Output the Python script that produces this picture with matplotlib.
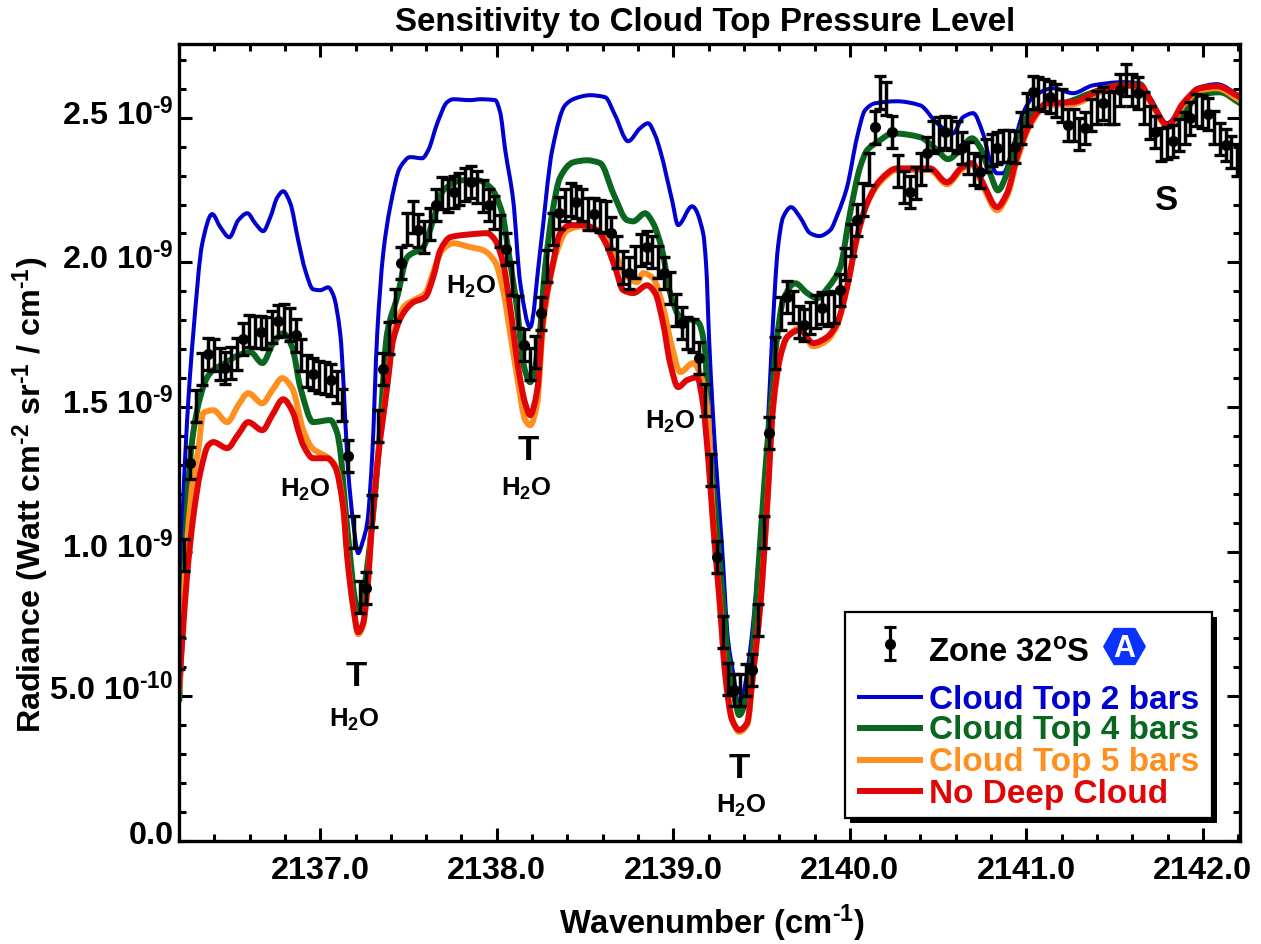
import numpy as np
import matplotlib
matplotlib.use("Agg")
import matplotlib.pyplot as plt
from matplotlib.lines import Line2D
from matplotlib.patches import Rectangle, PathPatch
from matplotlib.path import Path
from matplotlib.ticker import FixedLocator
from matplotlib.transforms import ScaledTranslation

plt.rcParams['font.family'] = ['Liberation Sans', 'DejaVu Sans']
plt.rcParams['font.weight'] = 'bold'
plt.rcParams['mathtext.fontset'] = 'custom'
plt.rcParams['mathtext.bf'] = 'Liberation Sans:bold'
plt.rcParams['mathtext.rm'] = 'Liberation Sans:bold'
plt.rcParams['mathtext.it'] = 'Liberation Sans:bold'
plt.rcParams['mathtext.default'] = 'bf'

# Radiance values are in units of 1e-9 Watt cm-2 sr-1 / cm-1
wn_blue = [2136.200, 2136.224, 2136.253, 2136.281, 2136.332, 2136.388, 2136.434, 2136.485, 2136.536, 2136.587,
           2136.632, 2136.677, 2136.717, 2136.757, 2136.790, 2136.830, 2136.875, 2136.915, 2136.960, 2137.000,
           2137.045, 2137.074, 2137.113, 2137.159, 2137.187, 2137.215, 2137.238, 2137.266, 2137.294, 2137.323,
           2137.357, 2137.396, 2137.453, 2137.510, 2137.578, 2137.612, 2137.663, 2137.719, 2137.753, 2137.849,
           2137.906, 2137.991, 2138.019, 2138.048, 2138.093, 2138.133, 2138.189, 2138.246, 2138.314, 2138.387,
           2138.444, 2138.529, 2138.614, 2138.670, 2138.744, 2138.812, 2138.857, 2138.897, 2138.925, 2138.993,
           2139.027, 2139.106, 2139.169, 2139.186, 2139.203, 2139.220, 2139.237, 2139.276, 2139.310, 2139.339,
           2139.373, 2139.418, 2139.452, 2139.492, 2139.531, 2139.559, 2139.593, 2139.622, 2139.667, 2139.718,
           2139.775, 2139.826, 2139.888, 2139.933, 2139.984, 2140.041, 2140.086, 2140.143, 2140.267, 2140.398,
           2140.494, 2140.584, 2140.641, 2140.698, 2140.754, 2140.794, 2140.834, 2140.868, 2140.924, 2140.981,
           2141.037, 2141.151, 2141.264, 2141.377, 2141.547, 2141.643, 2141.700, 2141.796, 2141.870, 2141.966,
           2142.079, 2142.210]
rad_blue = [0.660, 1.178, 1.524, 1.755, 2.066, 2.167, 2.122, 2.087, 2.146, 2.170,
            2.135, 2.108, 2.156, 2.225, 2.246, 2.205, 2.077, 1.973, 1.907, 1.904,
            1.914, 1.887, 1.755, 1.272, 1.099, 0.995, 1.030, 1.099, 1.327, 1.755,
            2.032, 2.191, 2.329, 2.364, 2.360, 2.388, 2.481, 2.554, 2.564, 2.561,
            2.564, 2.561, 2.519, 2.388, 2.215, 1.928, 1.776, 2.042, 2.388, 2.543,
            2.567, 2.578, 2.571, 2.509, 2.419, 2.464, 2.481, 2.440, 2.388, 2.215,
            2.129, 2.194, 2.101, 1.990, 1.731, 1.524, 1.351, 1.016, 0.695, 0.581,
            0.463, 0.581, 0.753, 1.040, 1.386, 1.731, 2.053, 2.156, 2.191, 2.156,
            2.101, 2.091, 2.111, 2.170, 2.260, 2.433, 2.526, 2.550, 2.557, 2.543,
            2.481, 2.446, 2.502, 2.516, 2.446, 2.353, 2.308, 2.308, 2.398, 2.516,
            2.571, 2.602, 2.585, 2.612, 2.623, 2.619, 2.571, 2.481, 2.526, 2.602,
            2.616, 2.575]

wn_green = [2136.202, 2136.224, 2136.247, 2136.275, 2136.320, 2136.360, 2136.394, 2136.462, 2136.536, 2136.604,
            2136.672, 2136.734, 2136.790, 2136.841, 2136.887, 2136.960, 2137.057, 2137.096, 2137.113, 2137.142,
            2137.170, 2137.193, 2137.215, 2137.238, 2137.266, 2137.294, 2137.328, 2137.379, 2137.436, 2137.493,
            2137.583, 2137.640, 2137.697, 2137.810, 2137.889, 2137.963, 2138.031, 2138.065, 2138.116, 2138.150,
            2138.189, 2138.234, 2138.274, 2138.314, 2138.359, 2138.433, 2138.512, 2138.586, 2138.660, 2138.739,
            2138.773, 2138.840, 2138.886, 2138.937, 2138.982, 2139.039, 2139.141, 2139.180, 2139.197, 2139.237,
            2139.277, 2139.311, 2139.350, 2139.373, 2139.407, 2139.446, 2139.480, 2139.520, 2139.560, 2139.588,
            2139.622, 2139.690, 2139.758, 2139.815, 2139.877, 2139.945, 2140.001, 2140.058, 2140.098, 2140.154,
            2140.245, 2140.398, 2140.494, 2140.556, 2140.624, 2140.692, 2140.737, 2140.794, 2140.839, 2140.890,
            2140.936, 2141.003, 2141.077, 2141.230, 2141.377, 2141.513, 2141.643, 2141.700, 2141.802, 2141.887,
            2141.972, 2142.096, 2142.210]
rad_green = [0.487, 0.833, 1.178, 1.386, 1.534, 1.603, 1.628, 1.652, 1.679, 1.690,
             1.652, 1.721, 1.755, 1.707, 1.569, 1.448, 1.455, 1.410, 1.351, 1.154,
             0.981, 0.850, 0.791, 0.833, 0.947, 1.099, 1.327, 1.755, 1.880, 2.018,
             2.053, 2.146, 2.249, 2.284, 2.284, 2.260, 2.170, 2.042, 1.835, 1.652,
             1.586, 1.697, 1.983, 2.170, 2.294, 2.346, 2.353, 2.343, 2.239, 2.146,
             2.142, 2.170, 2.135, 2.042, 1.894, 1.811, 1.793, 1.697, 1.465, 1.154,
             0.867, 0.625, 0.487, 0.435, 0.477, 0.636, 0.926, 1.272, 1.558, 1.742,
             1.869, 1.928, 1.894, 1.876, 1.914, 1.983, 2.170, 2.329, 2.388, 2.415,
             2.446, 2.433, 2.388, 2.357, 2.388, 2.429, 2.398, 2.308, 2.249, 2.308,
             2.412, 2.502, 2.536, 2.554, 2.588, 2.612, 2.616, 2.560, 2.474, 2.509,
             2.578, 2.588, 2.550]

wn_orange = [2136.202, 2136.224, 2136.247, 2136.281, 2136.309, 2136.337, 2136.394, 2136.473, 2136.536, 2136.592,
             2136.672, 2136.728, 2136.785, 2136.841, 2136.904, 2136.955, 2137.040, 2137.085, 2137.130, 2137.153,
             2137.187, 2137.215, 2137.243, 2137.266, 2137.294, 2137.328, 2137.379, 2137.413, 2137.481, 2137.527,
             2137.595, 2137.640, 2137.691, 2137.753, 2137.849, 2137.923, 2137.991, 2138.036, 2138.076, 2138.121,
             2138.161, 2138.189, 2138.229, 2138.263, 2138.342, 2138.399, 2138.489, 2138.569, 2138.660, 2138.739,
             2138.795, 2138.829, 2138.886, 2138.942, 2138.993, 2139.039, 2139.112, 2139.169, 2139.197, 2139.225,
             2139.265, 2139.293, 2139.333, 2139.373, 2139.418, 2139.452, 2139.492, 2139.531, 2139.565, 2139.605,
             2139.645, 2139.718, 2139.792, 2139.871, 2139.928, 2139.984, 2140.041, 2140.098, 2140.171, 2140.267,
             2140.454, 2140.550, 2140.636, 2140.692, 2140.754, 2140.834, 2140.890, 2140.947, 2141.021, 2141.117,
             2141.264, 2141.417, 2141.547, 2141.643, 2141.711, 2141.802, 2141.887, 2141.983, 2142.079, 2142.210]
rad_orange = [0.522, 0.809, 1.040, 1.258, 1.351, 1.479, 1.489, 1.448, 1.507, 1.548,
              1.513, 1.558, 1.600, 1.565, 1.420, 1.358, 1.327, 1.299, 1.161, 0.988,
              0.809, 0.715, 0.746, 0.867, 1.109, 1.334, 1.576, 1.749, 1.852, 1.869,
              1.894, 1.966, 2.042, 2.066, 2.053, 2.042, 2.001, 1.904, 1.755, 1.583,
              1.455, 1.437, 1.513, 1.790, 2.042, 2.111, 2.125, 2.111, 2.042, 1.949,
              1.932, 1.963, 1.945, 1.845, 1.707, 1.621, 1.652, 1.583, 1.465, 1.109,
              0.815, 0.591, 0.425, 0.377, 0.401, 0.581, 0.809, 1.154, 1.500, 1.672,
              1.742, 1.773, 1.710, 1.731, 1.783, 1.914, 2.087, 2.205, 2.277, 2.319,
              2.319, 2.270, 2.322, 2.336, 2.263, 2.180, 2.229, 2.353, 2.474, 2.543,
              2.547, 2.588, 2.609, 2.609, 2.547, 2.467, 2.543, 2.595, 2.602, 2.560]

wn_red = [2136.196, 2136.219, 2136.247, 2136.281, 2136.320, 2136.366, 2136.394, 2136.473, 2136.536, 2136.592,
          2136.672, 2136.728, 2136.790, 2136.847, 2136.875, 2136.904, 2136.960, 2137.040, 2137.085, 2137.130,
          2137.153, 2137.187, 2137.215, 2137.243, 2137.266, 2137.294, 2137.328, 2137.379, 2137.413, 2137.470,
          2137.527, 2137.595, 2137.640, 2137.680, 2137.736, 2137.849, 2137.946, 2137.991, 2138.036, 2138.076,
          2138.121, 2138.161, 2138.189, 2138.229, 2138.263, 2138.314, 2138.359, 2138.416, 2138.489, 2138.569,
          2138.614, 2138.670, 2138.716, 2138.773, 2138.852, 2138.897, 2138.942, 2138.982, 2139.027, 2139.078,
          2139.135, 2139.169, 2139.197, 2139.225, 2139.265, 2139.293, 2139.333, 2139.373, 2139.418, 2139.452,
          2139.492, 2139.531, 2139.565, 2139.605, 2139.645, 2139.718, 2139.792, 2139.871, 2139.928, 2139.984,
          2140.041, 2140.098, 2140.171, 2140.267, 2140.454, 2140.550, 2140.636, 2140.692, 2140.754, 2140.834,
          2140.890, 2140.947, 2141.021, 2141.117, 2141.264, 2141.417, 2141.547, 2141.643, 2141.711, 2141.802,
          2141.887, 2141.983, 2142.079, 2142.210]
rad_red = [0.505, 0.695, 0.926, 1.120, 1.272, 1.368, 1.379, 1.358, 1.406, 1.448,
           1.420, 1.472, 1.527, 1.479, 1.420, 1.368, 1.323, 1.323, 1.292, 1.154,
           0.981, 0.809, 0.722, 0.753, 0.867, 1.099, 1.327, 1.569, 1.731, 1.824,
           1.862, 1.880, 1.949, 2.042, 2.087, 2.097, 2.101, 2.077, 1.997, 1.845,
           1.638, 1.513, 1.472, 1.558, 1.811, 1.983, 2.101, 2.129, 2.129, 2.111,
           2.070, 1.983, 1.904, 1.894, 1.921, 1.894, 1.790, 1.652, 1.569, 1.593,
           1.603, 1.507, 1.327, 1.099, 0.809, 0.581, 0.418, 0.384, 0.408, 0.581,
           0.809, 1.154, 1.500, 1.672, 1.742, 1.766, 1.721, 1.742, 1.790, 1.914,
           2.087, 2.205, 2.284, 2.325, 2.325, 2.277, 2.329, 2.343, 2.274, 2.191,
           2.239, 2.364, 2.481, 2.550, 2.554, 2.595, 2.612, 2.612, 2.550, 2.474,
           2.550, 2.602, 2.609, 2.571]

# Observed radiance: 182 samples, one every 0.0331 cm-1, starting at 2136.198
obs_start = 2136.198
obs_step = 0.03313
obs_err = 0.056
obs_dot_every = 3
rad_obs = [0.650, 0.988,
           1.306, 1.503, 1.631,  1.683, 1.679, 1.648,  1.634, 1.652, 1.683,  1.735, 1.762, 1.759,
           1.759, 1.755, 1.776,  1.797, 1.800, 1.786,  1.748, 1.679, 1.624,  1.614, 1.603, 1.600,
           1.593, 1.569, 1.507,  1.330, 1.068, 0.843,  0.874, 1.140, 1.434,  1.631, 1.738, 1.852,
           1.997, 2.115, 2.156,  2.111, 2.087, 2.132,  2.198, 2.239, 2.232,  2.243, 2.253, 2.270,
           2.277, 2.260, 2.229,  2.198, 2.173, 2.108,  2.046, 1.945, 1.828,  1.714, 1.648, 1.690,
           1.824, 1.987, 2.115,  2.170, 2.198, 2.218,  2.208, 2.198, 2.167,  2.167, 2.160, 2.156,
           2.101, 2.035, 1.983,  1.963, 2.001, 2.042,  2.053, 2.035, 2.001,  1.963, 1.911, 1.835,
           1.790, 1.755, 1.748,  1.669, 1.524, 1.282,  0.981, 0.722, 0.560,  0.522, 0.522, 0.556,
           0.591, 0.764, 1.068,  1.410, 1.686, 1.824,  1.880, 1.845, 1.793,  1.783, 1.807, 1.831,
           1.842, 1.835, 1.845,  1.904, 1.994, 2.077,  2.146, 2.218, 2.322,  2.467, 2.588, 2.567,
           2.450, 2.315, 2.260,  2.243, 2.274, 2.322,  2.377, 2.433, 2.446,  2.450, 2.446, 2.433,
           2.395, 2.360, 2.322,  2.312, 2.370, 2.388,  2.395, 2.402, 2.402,  2.398, 2.464, 2.529,
           2.588, 2.585, 2.578,  2.571, 2.560, 2.543,  2.474, 2.474, 2.443,  2.464, 2.509, 2.536,
           2.550, 2.534, 2.536,  2.595, 2.630, 2.595,  2.585, 2.534, 2.484,  2.450, 2.408, 2.412,
           2.419, 2.440, 2.464,  2.498, 2.526, 2.522,  2.512, 2.467, 2.426,  2.405, 2.381, 2.353]

x_major = [2137.0, 2138.0, 2139.0, 2140.0, 2141.0, 2142.0]
x_major_labels = ['2137.0', '2138.0', '2139.0', '2140.0', '2141.0', '2142.0']
y_major = [0.0, 0.5, 1.0, 1.5, 2.0, 2.5]
HY = '\u2010'
y_major_labels = ['0.0', '5.0 10$^{' + HY + '10}$', '1.0 10$^{' + HY + '9}$', '1.5 10$^{' + HY + '9}$',
                  '2.0 10$^{' + HY + '9}$', '2.5 10$^{' + HY + '9}$']

series_labels = ['Cloud Top 2 bars', 'Cloud Top 4 bars', 'Cloud Top 5 bars', 'No Deep Cloud']
series_colors = ['#0000D0', '#0B6620', '#FF9020', '#E00606']
series_widths = [2.9, 4.3, 4.3, 4.3]

W, H = 1261, 944
fig = plt.figure(figsize=(W / 100, H / 100), dpi=100, facecolor='white')
ax = fig.add_axes([179 / W, (H - 841) / H, (1240 - 179) / W, (841 - 44) / H])


def fx(px):
    return px / W


def fy(py):
    return 1 - py / H


def smooth_curve(xs, ys):
    """A Bezier path through the read values, without overshoot at peaks."""
    x = np.asarray(xs)
    y = np.asarray(ys)
    h = np.diff(x)
    d = np.diff(y) / h
    m = np.zeros_like(y)
    m[0], m[-1] = d[0], d[-1]
    for i in range(1, len(y) - 1):
        if d[i - 1] * d[i] > 0:
            w1 = 2 * h[i] + h[i - 1]
            w2 = h[i] + 2 * h[i - 1]
            m[i] = (w1 + w2) / (w1 / d[i - 1] + w2 / d[i])
    verts = [(x[0], y[0])]
    codes = [Path.MOVETO]
    for i in range(len(h)):
        verts += [(x[i] + h[i] / 3, y[i] + m[i] * h[i] / 3),
                  (x[i + 1] - h[i] / 3, y[i + 1] - m[i + 1] * h[i] / 3),
                  (x[i + 1], y[i + 1])]
        codes += [Path.CURVE4] * 3
    return Path(verts, codes)


series = [(wn_blue, rad_blue), (wn_green, rad_green), (wn_orange, rad_orange), (wn_red, rad_red)]
for (xs, ys), col, lw in zip(series, series_colors, series_widths):
    ax.add_patch(PathPatch(smooth_curve(xs, ys), facecolor='none', edgecolor=col, lw=lw,
                           joinstyle='round', capstyle='round', zorder=2))

obs_y = np.array(rad_obs)
obs_x = obs_start + obs_step * np.arange(len(obs_y))
ax.errorbar(obs_x, obs_y, yerr=obs_err, fmt='none', ecolor='black', elinewidth=2.5,
            capsize=4.6, capthick=2.4, zorder=4)
ax.plot(obs_x[2::obs_dot_every], obs_y[2::obs_dot_every], 'o', color='black', ms=8, mew=0, zorder=5)

ax.set_xlim(2136.2, 2142.21)
ax.set_ylim(0, 2.755)
ax.set_xticks(x_major)
ax.set_xticklabels(x_major_labels)
ax.set_yticks(y_major)
ax.set_yticklabels(y_major_labels)
ax.xaxis.set_minor_locator(FixedLocator(np.arange(2136.2, 2142.25, 0.2)))
ax.yaxis.set_minor_locator(FixedLocator(np.arange(0, 2.76, 0.1)))
ax.tick_params(which='major', direction='in', length=9.4, width=2.2, top=True, right=True,
               labelsize=23.3)
ax.tick_params(which='minor', direction='in', length=5, width=2.2, top=True, right=True)
ax.tick_params(axis='x', which='major', pad=10.5)
ax.tick_params(axis='y', which='major', pad=4)
for lab, drop in zip(ax.get_yticklabels(), [2.5, 4, 7, 7, 7, 7.5]):
    lab.set_verticalalignment('baseline')
    lab.set_transform(lab.get_transform() + ScaledTranslation(0, -drop / 100, fig.dpi_scale_trans))
for s in ax.spines.values():
    s.set_linewidth(2.4)

fig.text(fx(705), fy(23), 'Sensitivity to Cloud Top Pressure Level', ha='center', va='center', fontsize=23.9)
fig.text(fx(712), fy(923), 'Wavenumber (cm$^{' + HY + '1}$)', ha='center', va='center', fontsize=23.6)
fig.text(fx(31), fy(495), 'Radiance (Watt cm$^{' + HY + '2}$ sr$^{' + HY + '1}$ / cm$^{' + HY + '1}$)',
         rotation=90, ha='center', va='center', fontsize=23.2)

for px, py in [(356, 677), (528, 451), (739, 769)]:
    fig.text(fx(px), fy(py), 'T', ha='center', va='center', fontsize=25, zorder=6)
fig.text(fx(1167), fy(201), 'S', ha='center', va='center', fontsize=25, zorder=6)
for px, py in [(305, 490), (471, 287), (670, 422), (526, 489), (354, 720), (741, 806)]:
    fig.text(fx(px), fy(py), 'H$_{2}$O', ha='center', va='center', fontsize=18.5, zorder=6)

# Legend box with its drop shadow
fig.add_artist(Rectangle((fx(850), fy(823)), (1217 - 850) / W, (823 - 617) / H, transform=fig.transFigure,
                         facecolor='black', edgecolor='none', zorder=7))
fig.add_artist(Rectangle((fx(845), fy(818)), (1212 - 845) / W, (818 - 612) / H, transform=fig.transFigure,
                         facecolor='white', edgecolor='black', lw=1.6, zorder=8))
for label, col, lw, py in zip(series_labels, series_colors, series_widths, [697, 728, 760, 791]):
    fig.add_artist(Line2D([fx(857), fx(923)], [fy(py), fy(py)], color=col, lw=lw,
                          solid_capstyle='butt', transform=fig.transFigure, zorder=9))
    fig.text(fx(929), fy(py + 3), label, color=col, fontsize=24, ha='left', va='center', zorder=9)

fig.add_artist(Line2D([fx(890), fx(890)], [fy(627), fy(660)], color='black', lw=2.3,
                      marker='_', ms=9, mew=2.2, transform=fig.transFigure, zorder=9))
fig.add_artist(Line2D([fx(890)], [fy(644)], color='black', marker='o', ms=8, mew=0,
                      transform=fig.transFigure, zorder=9))
fig.text(fx(928), fy(663), 'Zone 32$^{o}$S', color='black', fontsize=23.6, ha='left', va='baseline', zorder=9)
fig.add_artist(Line2D([fx(1124)], [fy(646)], color='#0A32FF', marker='H', ms=31, mew=0,
                      transform=fig.transFigure, zorder=9))
fig.text(fx(1124), fy(649), 'A', color='white', fontsize=22, ha='center', va='center', zorder=10)

fig.savefig('out.png', dpi=100, facecolor='white')
